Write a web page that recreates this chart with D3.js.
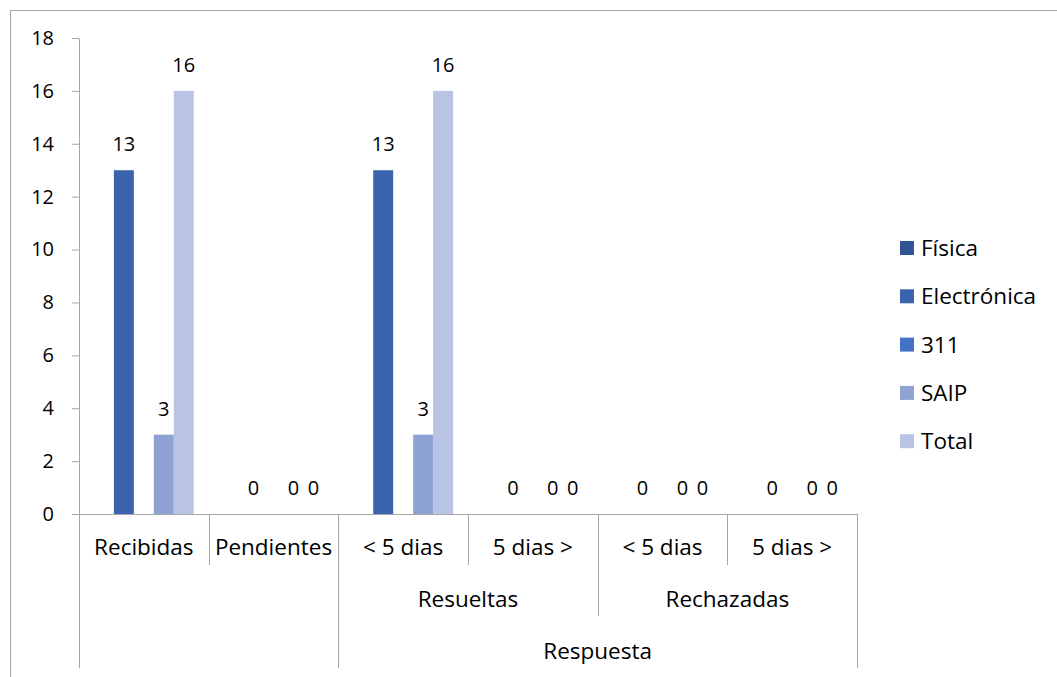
<!DOCTYPE html>
<html lang="en">
<head>
  <meta charset="UTF-8">
  <title>Solicitudes</title>
  <style>
    * {box-sizing: border-box;}
    html, body {
      margin: 0;
      padding: 0;
      background: #fff;
    }
    svg text {
      font-family: "Open Sans", Lato, sans-serif;
      font-size: 22.5px;
      fill: #000;
    }
    svg text.num {
      font-size: 20px;
    }
  </style>
</head>
<body>
  <svg id="chart"></svg>

  <script src="https://d3js.org/d3.v7.min.js"></script>
  <script>
    // categorias del eje (tres niveles)
    const categories = ['Recibidas', 'Pendientes', '< 5 dias', '5 dias >', '< 5 dias', '5 dias >']
    const groups = [
      {label: 'Resueltas', from: 2, to: 4},
      {label: 'Rechazadas', from: 4, to: 6}
    ]
    const topGroups = [
      {label: 'Respuesta', from: 2, to: 6}
    ]

    const seriesNames = ['Física', 'Electrónica', '311', 'SAIP', 'Total']
    const fisica = [null, null, null, null, null, null]
    const electronica = [13, 0, 13, 0, 0, 0]
    const linea311 = [null, null, null, null, null, null]
    const saip = [3, 0, 3, 0, 0, 0]
    const total = [16, 0, 16, 0, 0, 0]
    const colors = ['#2f5597', '#3c63ad', '#4472c4', '#8fa2d4', '#b9c3e4']

    const yTicks = [0, 2, 4, 6, 8, 10, 12, 14, 16, 18]

    const seriesValues = [fisica, electronica, linea311, saip, total]

    const W = 1057
    const H = 677
    const plotL = 79, plotR = 857, plotT = 38, plotB = 514
    const levelY = [565, 616, 668]

    const svg = d3.select('#chart')
      .attr('width', W)
      .attr('height', H)

    // marco del grafico
    svg.append('rect')
      .attr('x', 10.5).attr('y', 10.5)
      .attr('width', W + 20).attr('height', H + 20)
      .attr('fill', 'none')
      .attr('stroke', '#a6a6a6')

    const x = d3.scaleBand()
      .domain(d3.range(categories.length))
      .range([plotL, plotR])

    const xs = d3.scaleBand()
      .domain(seriesNames)
      .range([x.bandwidth() * 0.115, x.bandwidth() * 0.885])

    const y = d3.scaleLinear()
      .domain([0, 18])
      .range([plotB, plotT])

    // eje Y
    const yAxis = svg.append('g')
      .attr('transform', `translate(${plotL},0)`)
      .call(d3.axisLeft(y).tickValues(yTicks).tickSize(7).tickPadding(18).tickSizeOuter(0))
    yAxis.select('.domain').attr('stroke', '#a6a6a6')
    yAxis.selectAll('.tick line').attr('stroke', '#a6a6a6')
    yAxis.selectAll('.tick text')
      .attr('class', 'num')
      .style('font-size', '20px')
      .style('font-family', '"Open Sans"')
      .attr('fill', '#000')

    // barras
    const rows = []
    seriesValues.forEach((vals, s) => {
      vals.forEach((v, i) => {
        if (v !== null) rows.push({s, i, v})
      })
    })

    svg.append('g').selectAll('rect')
      .data(rows)
      .join('rect')
      .attr('x', d => x(d.i) + xs(seriesNames[d.s]))
      .attr('y', d => y(d.v))
      .attr('width', xs.bandwidth())
      .attr('height', d => y(0) - y(d.v))
      .attr('fill', d => colors[d.s])

    svg.append('g').selectAll('text')
      .data(rows)
      .join('text')
      .attr('class', 'num')
      .attr('x', d => x(d.i) + xs(seriesNames[d.s]) + xs.bandwidth() / 2)
      .attr('y', d => y(d.v) - 19)
      .attr('text-anchor', 'middle')
      .text(d => d.v)

    // eje X con niveles
    const gx = svg.append('g')
    gx.append('line')
      .attr('x1', plotL - 7).attr('x2', plotR)
      .attr('y1', plotB + 0.5).attr('y2', plotB + 0.5)
      .attr('stroke', '#a6a6a6')

    const edge = i => i === 0 ? plotL : (i === categories.length ? plotR : x(i))
    for (let b = 0; b <= categories.length; b++) {
      let depth = 0
      if (groups.some(g => g.from === b || g.to === b)) depth = 1
      if (b === 0 || b === categories.length || topGroups.some(g => g.from === b || g.to === b)) depth = 2
      gx.append('line')
        .attr('x1', Math.round(edge(b)) + 0.5).attr('x2', Math.round(edge(b)) + 0.5)
        .attr('y1', plotB).attr('y2', levelY[depth])
        .attr('stroke', '#a6a6a6')
    }

    gx.selectAll('text.l1')
      .data(categories)
      .join('text')
      .attr('class', 'l1')
      .attr('x', (d, i) => x(i) + x.bandwidth() / 2)
      .attr('y', 555)
      .attr('text-anchor', 'middle')
      .text(d => d)

    gx.selectAll('text.l2')
      .data(groups)
      .join('text')
      .attr('class', 'l2')
      .attr('x', d => (edge(d.from) + edge(d.to)) / 2)
      .attr('y', 607)
      .attr('text-anchor', 'middle')
      .text(d => d.label)

    gx.selectAll('text.l3')
      .data(topGroups)
      .join('text')
      .attr('class', 'l3')
      .attr('x', d => (edge(d.from) + edge(d.to)) / 2)
      .attr('y', 659)
      .attr('text-anchor', 'middle')
      .text(d => d.label)

    // leyenda
    const legend = svg.append('g')
      .selectAll('g')
      .data(seriesNames)
      .join('g')
      .attr('transform', (d, i) => `translate(900,${241 + i * 48.3})`)
    legend.append('rect')
      .attr('width', 14).attr('height', 14)
      .attr('fill', (d, i) => colors[i])
    legend.append('text')
      .attr('x', 21).attr('y', 15)
      .text(d => d)
  </script>
</body>
</html>
